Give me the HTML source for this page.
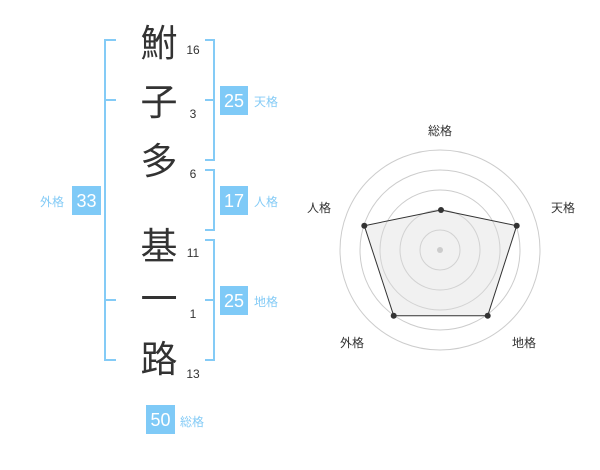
<!DOCTYPE html>
<html><head><meta charset="utf-8"><style>
body{margin:0;width:600px;height:470px;background:#fff;overflow:hidden;font-family:"Liberation Sans","Noto Sans CJK JP",sans-serif}
svg{position:absolute;left:0;top:0}
</style></head><body>
<svg width="600" height="470" viewBox="0 0 600 470" font-family="Liberation Sans, Noto Sans CJK JP, sans-serif">
<g stroke="#84cbf6" stroke-width="2" fill="none">
<path d="M116 40H105V360H116M105 100H116M105 300H116"/>
<path d="M205 40H214V160H205M214 100H205"/>
<path d="M205 170H214V230H205"/>
<path d="M205 240H214V360H205M214 300H205"/>
</g>
<g font-size="37" fill="#333" text-anchor="middle">
<text x="159" y="56">鮒</text>
<text x="159" y="115">子</text>
<text x="159" y="174">多</text>
<text x="159" y="259">基</text>
<text x="159" y="312">一</text>
<text x="159" y="372">路</text>
</g>
<g font-size="12" fill="#333" text-anchor="middle">
<text x="193" y="54">16</text>
<text x="193" y="118">3</text>
<text x="193" y="178">6</text>
<text x="193" y="257">11</text>
<text x="193" y="318">1</text>
<text x="193" y="378">13</text>
</g>
<g fill="#7fcaf7">
<rect x="220" y="86" width="28" height="29"/>
<rect x="220" y="186" width="28" height="29"/>
<rect x="220" y="286" width="28" height="29"/>
<rect x="72" y="186" width="29" height="29"/>
<rect x="146" y="405" width="29" height="29"/>
</g>
<g font-size="18" fill="#fff" text-anchor="middle">
<text x="234" y="107">25</text>
<text x="234" y="207">17</text>
<text x="234" y="307">25</text>
<text x="86.5" y="207">33</text>
<text x="160.5" y="426">50</text>
</g>
<g font-size="12" fill="#84cbf6">
<text x="254" y="106">天格</text>
<text x="254" y="206">人格</text>
<text x="254" y="306">地格</text>
<text x="40" y="206">外格</text>
<text x="180" y="426">総格</text>
</g>
<g fill="none" stroke="#ccc" stroke-width="1">
<circle cx="440" cy="250" r="20"/><circle cx="440" cy="250" r="40"/><circle cx="440" cy="250" r="60"/><circle cx="440" cy="250" r="80"/><circle cx="440" cy="250" r="100"/>
</g>
<polygon points="441,210 516.7,225.7 487.7,315.7 393.7,315.7 364.3,225.7" fill="rgba(220,220,220,0.4)" stroke="#333" stroke-width="1"/>
<circle cx="440" cy="250" r="3" fill="#ccc"/>
<g fill="#333">
<circle cx="441" cy="210" r="3"/><circle cx="516.7" cy="225.7" r="3"/><circle cx="487.7" cy="315.7" r="3"/><circle cx="393.7" cy="315.7" r="3"/><circle cx="364.3" cy="225.7" r="3"/>
</g>
<g font-size="12" fill="#333" text-anchor="middle">
<text x="440" y="135">総格</text>
<text x="563" y="212">天格</text>
<text x="319" y="212">人格</text>
<text x="352" y="347">外格</text>
<text x="524" y="347">地格</text>
</g>
</svg>
</body></html>
